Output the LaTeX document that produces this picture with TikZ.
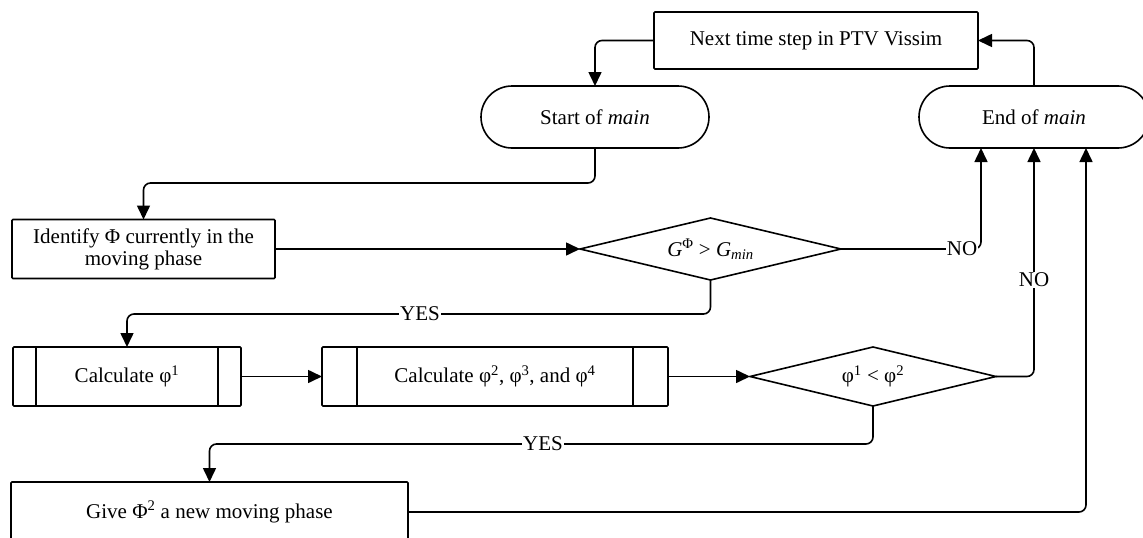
\documentclass[tikz,border=0pt]{standalone}
\usepackage{fontspec}
\setmainfont{Liberation Serif}
\usetikzlibrary{arrows.meta,calc}

\begin{document}
\begin{tikzpicture}[x=1pt,y=-1pt,
  font=\fontsize{21}{22}\selectfont,
  every node/.style={inner sep=0pt, outer sep=0pt, align=center},
  blk/.style={draw, line width=1.6pt, rounded corners=1pt},
  term/.style={draw, line width=1.6pt, rounded corners=31pt},
  hidden/.style={draw=none},
  link/.style={line width=1.6pt, rounded corners=7pt},
  arr/.style={link, -{Triangle[length=14pt,width=13pt]}},
  lbl/.style={fill=white, inner sep=1pt}]

\useasboundingbox (0,0) rectangle (1143,538);

% terminals and time step
\node[blk, minimum width=324pt, minimum height=57pt] (next) at (816,40.5) {Next time step in PTV Vissim};
\node[term, minimum width=228pt, minimum height=62pt] (start) at (595,117) {Start of \textit{main}};
\node[term, minimum width=230pt, minimum height=62pt] (end) at (1034,117) {End of \textit{main}};

% process boxes
\node[blk, minimum width=263pt, minimum height=59pt] (ident) at (143.5,249) {Identify Φ currently in the\\moving phase};
\node[blk, minimum width=228pt, minimum height=59pt] (calcA) at (127,376.5) {Calculate φ\textsuperscript{1}};
\node[blk, minimum width=346pt, minimum height=59pt] (calcB) at (495,376.5) {Calculate φ\textsuperscript{2}, φ\textsuperscript{3}, and φ\textsuperscript{4}};
\node[blk, minimum width=397pt, minimum height=60pt] (give) at (209.5,512) {Give Φ\textsuperscript{2} a new moving phase};

% sub-process side bars
\draw[line width=1.6pt] ($(calcA.north west)+(23,0)$) -- ($(calcA.south west)+(23,0)$);
\draw[line width=1.6pt] ($(calcA.north east)+(-23,0)$) -- ($(calcA.south east)+(-23,0)$);
\draw[line width=1.6pt] ($(calcB.north west)+(35,0)$) -- ($(calcB.south west)+(35,0)$);
\draw[line width=1.6pt] ($(calcB.north east)+(-35,0)$) -- ($(calcB.south east)+(-35,0)$);

% decisions
\node[hidden, minimum width=261pt, minimum height=62pt] (dA) at (710.5,249) {\textit{G}\textsuperscript{Φ} > \textit{G}\textsubscript{\textit{min}}};
\draw[line width=1.6pt, line join=miter] (dA.west) -- (dA.north) -- (dA.east) -- (dA.south) -- cycle;
\node[hidden, minimum width=246pt, minimum height=59pt] (dB) at (873,376.5) {φ\textsuperscript{1} < φ\textsuperscript{2}};
\draw[line width=1.6pt, line join=miter] (dB.west) -- (dB.north) -- (dB.east) -- (dB.south) -- cycle;

% entry points on the end terminal
\coordinate (endA) at ($(end.south)+(-53,0)$);
\coordinate (endC) at ($(end.south)+(52,0)$);

% connectors
\draw[arr] (next.west) -| (start.north);
\draw[arr] (end.north) |- (next.east);
\draw[arr] (start.south) -- ++(0,35) -| (ident.north);
\draw[arr] (ident.east) -- (dA.west);
\draw[arr] (dA.east) -| (endA);
\draw[arr] (dA.south) -- ++(0,34) -| (calcA.north);
\draw[arr] (calcA.east) -- (calcB.west);
\draw[arr] (calcB.east) -- (dB.west);
\draw[arr] (dB.east) -| (end.south);
\draw[arr] (dB.south) -- ++(0,38) -| (give.north);
\draw[arr] (give.east) -| (endC);

% branch labels
\node[lbl] (noA) at (962,249) {NO};
\node[lbl] (noB) at (1034,280) {NO};
\node[lbl] (yesA) at (420,314) {YES};
\node[lbl] (yesB) at (543,444) {YES};
\end{tikzpicture}
\end{document}
